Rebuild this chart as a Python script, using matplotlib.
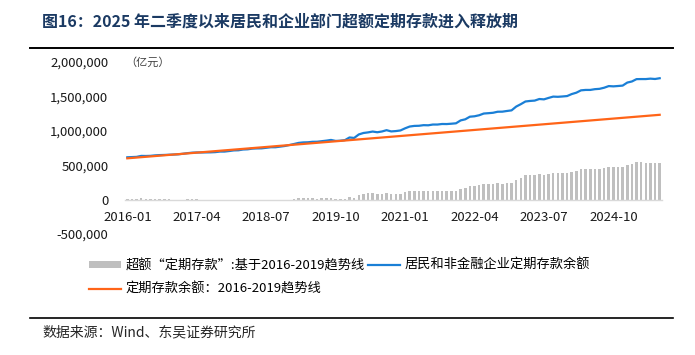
import numpy as np
import pandas as pd
import matplotlib
matplotlib.use('Agg')
import matplotlib.pyplot as plt
from matplotlib.patches import Patch
from matplotlib.lines import Line2D
from matplotlib.ticker import FuncFormatter

plt.rcParams['font.family'] = ['Noto Sans CJK SC', 'DejaVu Sans']

# monthly, 2016-01 .. 2025-08, unit: 千亿元 (x1000 -> 亿元)
months = pd.period_range('2016-01', '2025-08', freq='M').strftime('%Y-%m').tolist()

deposit = [
    615, 618, 621, 635, 634, 636, 643, 647, 649, 652, 655, 658,
    666, 675, 682, 685, 685, 686, 687, 690, 698, 698, 706, 715,
    717, 728, 731, 741, 744, 745, 753, 761, 761, 770, 779, 793,
    808, 824, 831, 833, 840, 841, 849, 857, 867, 853, 856, 864,
    903, 896, 947, 968, 977, 989, 979, 990, 1009, 991, 996, 1005,
    1036, 1062, 1071, 1073, 1082, 1080, 1091, 1091, 1099, 1098, 1103, 1109,
    1151, 1167, 1205, 1211, 1226, 1251, 1256, 1262, 1277, 1278, 1288, 1297,
    1352, 1387, 1426, 1434, 1439, 1462, 1457, 1478, 1497, 1494, 1499, 1505,
    1534, 1554, 1588, 1594, 1594, 1605, 1610, 1626, 1650, 1646, 1651, 1657,
    1701, 1717, 1751, 1752, 1752, 1758, 1753, 1764,
]

excess = [
    15, 12, 10, 18, 12, 8, 10, 8, 5, 2, 0, -3,
    0, 3, 5, 2, -3, -8, -12, -15, -12, -18, -15, -12,
    -15, -10, -12, -8, -10, -15, -12, -10, -15, -12, -8, 0,
    10, 20, 22, 18, 20, 15, 18, 20, 25, 5, 3, 5,
    39, 26, 72, 87, 91, 97, 82, 87, 101, 77, 77, 80,
    106, 126, 130, 126, 130, 122, 128, 122, 125, 118, 118, 118,
    155, 165, 198, 198, 208, 227, 227, 227, 237, 232, 237, 240,
    290, 319, 353, 355, 355, 372, 362, 377, 391, 382, 382, 382,
    406, 420, 449, 449, 444, 449, 449, 459, 478, 468, 468, 468,
    507, 517, 546, 541, 536, 536, 526, 531,
]

# straight 2016-2019 trend line: first and last month
trend_months = ['2016-01', '2025-08']
trend_vals = [600, 1232.5]

tick_labels = ['2016-01', '2017-04', '2018-07', '2019-10',
               '2021-01', '2022-04', '2023-07', '2024-10']

title = '图16：2025 年二季度以来居民和企业部门超额定期存款进入释放期'
source = '数据来源：Wind、东吴证券研究所'

c_blue = '#1A7FD6'
c_orange = '#FF6418'
c_gray = '#BFBFBF'

W, H = 695, 355
fig = plt.figure(figsize=(W / 100, H / 100), dpi=100)
fig.patch.set_facecolor('white')

ax = fig.add_axes([125 / W, 1 - 234 / H, (662 - 125) / W, (234 - 62) / H])

x = np.arange(len(months))
ax.bar(x, np.array(excess) * 1000, width=0.55, color=c_gray, zorder=1)
ax.plot(x, np.array(deposit) * 1000, color=c_blue, lw=1.6, zorder=3)
xt = [months.index(m) for m in trend_months]
ax.plot(xt, np.array(trend_vals) * 1000, color=c_orange, lw=1.6, zorder=4)

ax.set_xlim(-0.5, len(months) - 0.5)
ax.set_ylim(-500000, 2000000)
ax.set_yticks(np.arange(-500000, 2000001, 500000))
ax.yaxis.set_major_formatter(FuncFormatter(lambda v, p: f'{v:,.0f}'))
ax.set_xticks([months.index(t) for t in tick_labels])
ax.set_xticklabels(tick_labels)

for s in ['left', 'right', 'top']:
    ax.spines[s].set_visible(False)
ax.spines['bottom'].set_position(('data', 0))
ax.spines['bottom'].set_color('#D9D9D9')
ax.spines['bottom'].set_linewidth(1)
ax.spines['bottom'].set_zorder(2)
ax.tick_params(axis='both', length=0, labelsize=9.5, colors='#1A1A1A')
ax.tick_params(axis='x', pad=8)
ax.tick_params(axis='y', pad=12)

ax.text(0.0, 1.0, '（亿元）', transform=ax.transAxes, fontsize=8,
        color='#404040', ha='left', va='center')

handles = [Patch(facecolor=c_gray, edgecolor='none'),
           Line2D([], [], color=c_orange, lw=1.6),
           Line2D([], [], color=c_blue, lw=1.6)]
labels = ['超额“定期存款”:基于2016-2019趋势线',
          '定期存款余额：2016-2019趋势线',
          '居民和非金融企业定期存款余额']
fig.legend(handles, labels, loc='upper left', bbox_to_anchor=(89 / W, 1 - 259 / H),
           ncol=2, frameon=False, fontsize=9.5, handlelength=2.45, handleheight=0.55,
           handletextpad=0.3, columnspacing=0.25, labelspacing=0.8,
           borderpad=0, borderaxespad=0)

fig.text(42 / W, 1 - 22 / H, title, fontsize=11.5, fontweight='bold',
         color='#1B3A63', ha='left', va='center')
fig.add_artist(Line2D([30 / W, 673 / W], [1 - 48 / H] * 2, color='black', lw=1.4))
fig.add_artist(Line2D([30 / W, 673 / W], [1 - 318 / H] * 2, color='black', lw=1.2))
fig.text(42 / W, 1 - 332 / H, source, fontsize=10, color='#262626',
         ha='left', va='center')

fig.savefig('out.png', dpi=100, facecolor='white')
